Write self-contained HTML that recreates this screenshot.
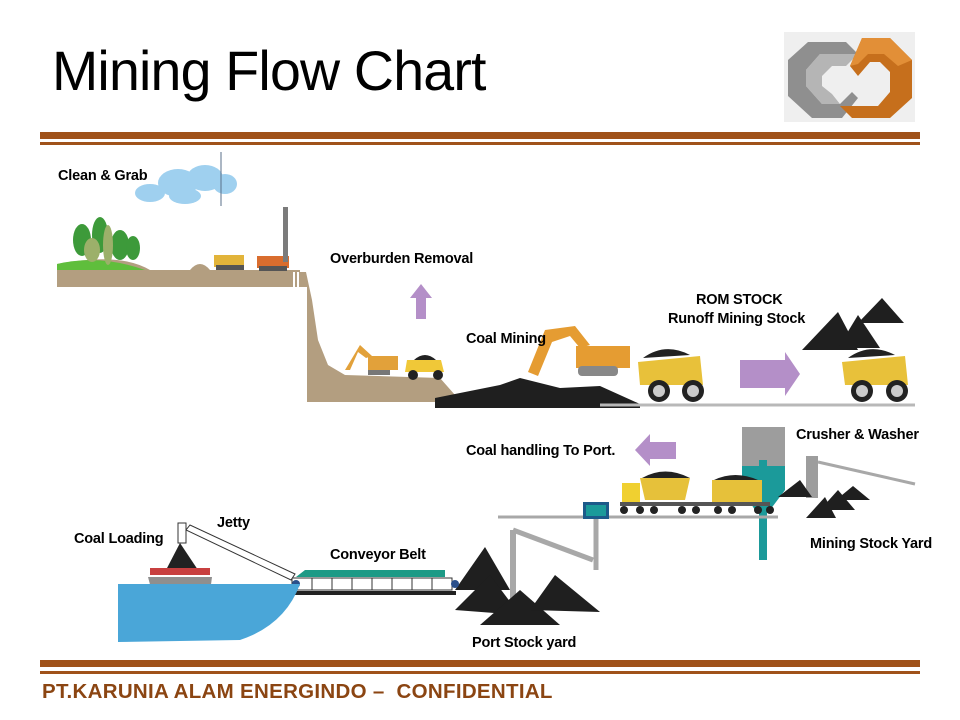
<!DOCTYPE html>
<html><head><meta charset="utf-8"><style>
html,body{margin:0;padding:0;background:#fff;}
svg{display:block}
.l{font-family:"Liberation Sans",sans-serif;font-weight:bold;font-size:14.5px;letter-spacing:-0.2px;fill:#000}
</style></head><body>
<svg width="960" height="720" viewBox="0 0 960 720" xmlns="http://www.w3.org/2000/svg">
<text x="52" y="90" font-family="Liberation Sans,sans-serif" font-size="55.5" letter-spacing="-0.8" fill="#000">Mining Flow Chart</text>
<rect x="784" y="32" width="131" height="90" fill="#efefef"/>
<polygon points="808,42 846,42 858,54 820,54 806,70 806,86 822,104 840,104 852,92 858,98 842,118 812,118 788,96 788,60" fill="#8f8f8f"/>
<polygon points="820,54 858,54 846,66 832,66 822,76 822,86 832,94 840,104 822,104 806,86 806,70" fill="#b5b5b5"/>
<polygon points="862,38 890,38 912,60 912,98 890,118 852,118 840,106 878,106 890,92 890,72 880,62 870,62 858,76 850,66" fill="#c66f1c"/>
<polygon points="862,38 890,38 912,60 898,66 884,54 868,54 858,64 850,66" fill="#e28f37"/>
<rect x="40" y="132" width="880" height="7" fill="#a0521a"/>
<rect x="40" y="142" width="880" height="3" fill="#a0521a"/>
<rect x="40" y="660" width="880" height="7" fill="#a0521a"/>
<rect x="40" y="671" width="880" height="3" fill="#a0521a"/>
<text x="42" y="698" font-family="Liberation Sans,sans-serif" font-weight="bold" font-size="20.5" letter-spacing="0.3" fill="#8b4512">PT.KARUNIA ALAM ENERGINDO –&#160;&#160;CONFIDENTIAL</text>

<g fill="#9fd0ef">
<ellipse cx="150" cy="193" rx="15" ry="9"/><ellipse cx="178" cy="183" rx="20" ry="14"/><ellipse cx="205" cy="178" rx="18" ry="13"/><ellipse cx="225" cy="184" rx="12" ry="10"/><ellipse cx="185" cy="196" rx="16" ry="8"/>
</g>
<line x1="221" y1="152" x2="221" y2="206" stroke="#5a6f8a" stroke-width="1"/>
<path d="M57,264 Q120,252 150,270 L190,270 Q200,258 210,270 L300,270 L300,287 L57,287Z" fill="#b39e80"/>
<path d="M57,264 Q100,254 145,270 L57,270Z" fill="#5fbe3c"/>
<g fill="#3d9a3a"><ellipse cx="82" cy="240" rx="9" ry="16"/><ellipse cx="100" cy="235" rx="8" ry="18"/><ellipse cx="120" cy="245" rx="9" ry="15"/><ellipse cx="133" cy="248" rx="7" ry="12"/></g>
<g fill="#9cb06a"><ellipse cx="92" cy="250" rx="8" ry="12"/><ellipse cx="108" cy="245" rx="5" ry="20"/></g>
<rect x="214" y="255" width="30" height="12" fill="#e2b43a"/><rect x="216" y="265" width="28" height="5" fill="#555"/>
<rect x="257" y="256" width="32" height="12" fill="#d96d2e"/><rect x="259" y="266" width="28" height="5" fill="#555"/>
<rect x="283" y="207" width="5" height="55" fill="#7b7b7b"/>
<path d="M300,272 L306,272 L312,300 L318,340 L328,365 L345,375 L440,378 L455,395 L455,402 L307,402 L307,287 L300,287Z" fill="#b39e80"/>
<rect x="293" y="272" width="2" height="15" fill="#fff"/><rect x="297" y="272" width="2" height="15" fill="#fff"/>
<g fill="#e2a13a"><path d="M345,370 L360,345 L372,356 L366,358 L358,352 L350,370Z"/><rect x="368" y="356" width="30" height="14"/></g>
<rect x="368" y="370" width="22" height="5" fill="#777"/>
<path d="M407,360 L441,360 L444,372 L405,372Z" fill="#f0c838"/><path d="M414,360 Q425,350 436,360Z" fill="#222"/>
<circle cx="413" cy="375" r="5" fill="#222"/><circle cx="438" cy="375" r="5" fill="#222"/>
<polygon points="421,284 432,298 426,298 426,319 416,319 416,298 410,298" fill="#b48fc8"/>
<path d="M435,408 L435,398 L500,385 L520,378 L560,388 L600,386 L640,404 L640,408Z" fill="#1f1f1f"/>
<line x1="600" y1="405" x2="915" y2="405" stroke="#b8b8b8" stroke-width="3"/>
<g fill="#e59c32"><path d="M528,372 L545,330 L575,326 L590,345 L580,348 L570,336 L552,342 L538,376Z"/><rect x="576" y="346" width="54" height="22"/></g>
<rect x="578" y="366" width="40" height="10" rx="4" fill="#888"/>
<g>
<path d="M638,362 L700,356 L703,385 L640,385Z" fill="#e8c13a"/><path d="M643,358 Q665,342 690,355Z" fill="#222"/>
<circle cx="659" cy="391" r="11" fill="#222"/><circle cx="659" cy="391" r="6" fill="#ccc"/>
<circle cx="693" cy="391" r="11" fill="#222"/><circle cx="693" cy="391" r="6" fill="#ccc"/>
</g>
<g>
<path d="M842,362 L905,356 L908,385 L845,385Z" fill="#e8c13a"/><path d="M848,358 Q870,342 895,355Z" fill="#222"/>
<circle cx="862" cy="391" r="11" fill="#222"/><circle cx="862" cy="391" r="6" fill="#ccc"/>
<circle cx="897" cy="391" r="11" fill="#222"/><circle cx="897" cy="391" r="6" fill="#ccc"/>
</g>
<polygon points="740,360 785,360 785,352 800,374 785,396 785,388 740,388" fill="#b48fc8"/>
<g fill="#1f1f1f"><polygon points="802,350 838,312 858,350"/><polygon points="838,348 858,315 880,348"/><polygon points="858,323 882,298 904,323"/></g>

<polygon points="635,450 650,434 650,442 676,442 676,459 650,459 650,466" fill="#b48fc8"/>
<rect x="742" y="427" width="43" height="43" fill="#9d9d9d"/>
<path d="M742,466 L785,466 L785,490 L770,510 L755,510 L742,490Z" fill="#1b9a9a"/>
<rect x="759" y="460" width="8" height="100" fill="#1b9a9a"/>
<rect x="622" y="483" width="18" height="20" fill="#f0d030"/>
<path d="M640,478 L690,478 L685,500 L645,500Z" fill="#e6c13a"/><path d="M642,478 Q665,465 690,478Z" fill="#222"/>
<rect x="712" y="480" width="50" height="22" fill="#e6c13a"/><path d="M714,480 Q735,470 758,480Z" fill="#222"/>
<rect x="620" y="502" width="150" height="4" fill="#555"/>
<g fill="#222"><circle cx="624" cy="510" r="4"/><circle cx="640" cy="510" r="4"/><circle cx="654" cy="510" r="4"/><circle cx="682" cy="510" r="4"/><circle cx="696" cy="510" r="4"/><circle cx="718" cy="510" r="4"/><circle cx="732" cy="510" r="4"/><circle cx="758" cy="510" r="4"/><circle cx="770" cy="510" r="4"/></g>
<line x1="498" y1="517" x2="778" y2="517" stroke="#a8a8a8" stroke-width="3"/>
<rect x="583" y="502" width="26" height="17" fill="#1c5a8a"/><rect x="586" y="505" width="20" height="11" fill="#1b9a9a"/>
<line x1="596" y1="519" x2="596" y2="570" stroke="#a8a8a8" stroke-width="5"/>
<polyline points="513,530 593,560" stroke="#a8a8a8" stroke-width="5" fill="none"/>
<line x1="513" y1="530" x2="513" y2="610" stroke="#a8a8a8" stroke-width="6"/>
<rect x="806" y="456" width="12" height="42" fill="#9d9d9d"/>
<line x1="818" y1="462" x2="915" y2="484" stroke="#a8a8a8" stroke-width="3"/>
<g fill="#1f1f1f"><polygon points="778,497 800,480 812,497"/><polygon points="806,518 825,497 836,518"/><polygon points="820,510 838,490 855,510"/><polygon points="836,500 853,486 870,500"/></g>
<g fill="#1f1f1f"><polygon points="455,590 485,547 510,590"/><polygon points="455,610 490,575 520,615"/><polygon points="480,625 520,590 560,625"/><polygon points="530,610 555,575 600,612"/></g>
<polygon points="296,577 305,570 445,570 445,577" fill="#1d9a86"/>
<rect x="292" y="578" width="160" height="12" fill="#fff" stroke="#333"/>
<g stroke="#333"><line x1="312" y1="578" x2="312" y2="590"/><line x1="332" y1="578" x2="332" y2="590"/><line x1="352" y1="578" x2="352" y2="590"/><line x1="372" y1="578" x2="372" y2="590"/><line x1="392" y1="578" x2="392" y2="590"/><line x1="412" y1="578" x2="412" y2="590"/><line x1="432" y1="578" x2="432" y2="590"/></g>
<rect x="288" y="591" width="168" height="4" fill="#222"/>
<circle cx="296" cy="584" r="4" fill="#2a4f8a"/><circle cx="455" cy="584" r="4" fill="#2a4f8a"/>
<polygon points="186,530 190,525 295,574 291,580" fill="#fff" stroke="#333"/>
<rect x="178" y="523" width="8" height="20" fill="#fff" stroke="#333"/>
<polygon points="166,570 180,543 198,570" fill="#222"/>
<rect x="150" y="568" width="60" height="7" fill="#c84040"/>
<polygon points="148,577 212,577 210,592 152,592" fill="#8f8f8f"/>
<path d="M118,584 L300,584 Q285,625 240,640 L118,642Z" fill="#4aa6d8"/>
<text class="l" x="58" y="180">Clean &amp; Grab</text>
<text class="l" x="330" y="263">Overburden Removal</text>
<text class="l" x="466" y="343">Coal Mining</text>
<text class="l" x="696" y="304">ROM STOCK</text>
<text class="l" x="668" y="323">Runoff Mining Stock</text>
<text class="l" x="466" y="455">Coal handling To Port.</text>
<text class="l" x="796" y="439">Crusher &amp; Washer</text>
<text class="l" x="810" y="548">Mining Stock Yard</text>
<text class="l" x="217" y="527">Jetty</text>
<text class="l" x="74" y="543">Coal Loading</text>
<text class="l" x="330" y="559">Conveyor Belt</text>
<text class="l" x="472" y="647">Port Stock yard</text>
</svg>
</body></html>
